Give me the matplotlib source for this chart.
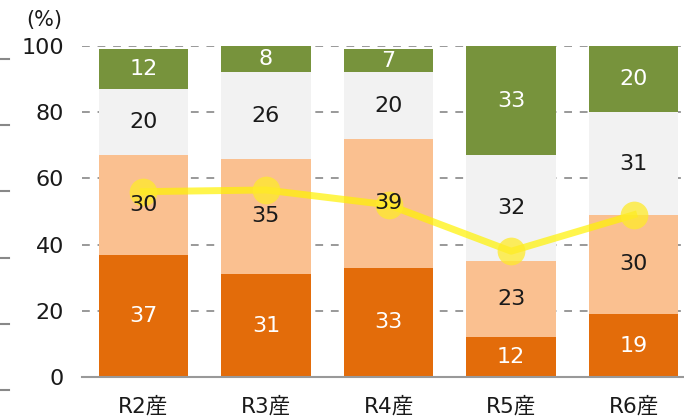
import matplotlib
matplotlib.use('Agg')
import matplotlib.pyplot as plt
import matplotlib.transforms as mtransforms
import numpy as np

plt.rcParams['font.family'] = ['DejaVu Sans', 'Noto Sans CJK JP']

# Données
categories = ['R2産', 'R3産', 'R4産', 'R5産', 'R6産']
seg1 = [37, 31, 33, 12, 19]   # bas (orange foncé)
seg2 = [30, 35, 39, 23, 30]   # orange clair
seg3 = [20, 26, 20, 32, 31]   # gris clair
seg4 = [12, 8, 7, 33, 20]     # vert
ligne = [56, 56.5, 52, 38, 49]
yticks = [0, 20, 40, 60, 80, 100]

couleurs = ['#E36C0A', '#FAC090', '#F2F2F2', '#77933C']
couleurs_texte = ['white', '#1a1a1a', '#1a1a1a', 'white']

fig = plt.figure(figsize=(6.84, 4.18), dpi=100)
ax = fig.add_axes([82 / 684, 41 / 418, 1 - 82 / 684, 331 / 418])

x = np.arange(len(categories))
largeur = 0.73

# Grille pointillée
for v in yticks[1:]:
    ax.axhline(v, color='#999999', linestyle=(0, (4, 4)), linewidth=1.4, zorder=0)

bas = np.zeros(len(categories))
for serie, c, ct in zip([seg1, seg2, seg3, seg4], couleurs, couleurs_texte):
    serie = np.array(serie)
    ax.bar(x, serie, largeur, bottom=bas, color=c, zorder=1)
    for xi, b, h in zip(x, bas, serie):
        ax.text(xi, b + h / 2, str(h), ha='center', va='center',
                fontsize=16, color=ct, zorder=4)
    bas = bas + serie

# Ligne jaune
ax.plot(x, ligne, color='#FFF200', linewidth=5, alpha=0.7, zorder=2)
ax.plot(x, ligne, linestyle='none', marker='o', markersize=20,
        color='#FFEA2A', alpha=0.75, markeredgewidth=0, zorder=3)

ax.set_xlim(-0.5, 4.41)
ax.set_ylim(0, 100)
ax.set_yticks(yticks)
ax.set_yticklabels([str(v) for v in yticks], fontsize=16, color='#1a1a1a')
ax.set_xticks(x)
ax.set_xticklabels(categories, fontsize=15.5, color='#1a1a1a')
ax.tick_params(axis='both', length=0)
ax.tick_params(axis='y', pad=13)
ax.tick_params(axis='x', pad=14)
for s in ['left', 'right', 'top']:
    ax.spines[s].set_visible(False)
ax.spines['bottom'].set_color('#999999')
ax.spines['bottom'].set_linewidth(1.5)
ax.spines['bottom'].set_zorder(5)

# Petits traits à gauche
trans = mtransforms.blended_transform_factory(fig.transFigure, ax.transData)
for v in yticks:
    ax.plot([0, 9 / 684], [v - 3.9, v - 3.9], color='#888888', linewidth=1.5,
            transform=trans, clip_on=False)

fig.text(44 / 684, 1 - 20 / 418, '(%)', ha='center', va='center',
         fontsize=15, color='#1a1a1a')

fig.savefig('out.png', dpi=100)
